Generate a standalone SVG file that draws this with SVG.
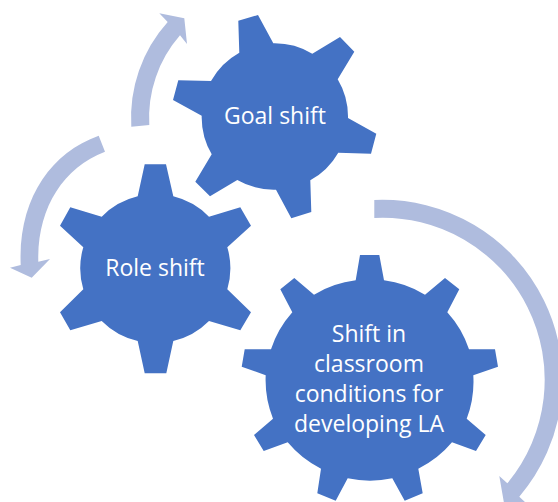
<svg xmlns="http://www.w3.org/2000/svg" width="558" height="502" viewBox="0 0 558 502">
<style>
.gear{fill:#4472c4}
.arrow{fill:#afbcde}
text{font-family:"Open Sans","Noto Sans","Liberation Sans",sans-serif;font-size:23px;fill:#fff;text-anchor:middle}
</style>
<rect width="558" height="502" fill="#fff"/>
<g id="connectors">
<path class="arrow" d="M131.3 126.7A143 143 0 0 1 167.7 22L159.3 13.3L184.3 18.3L187 44L180 35.3A125 125 0 0 0 149.3 125Z"/>
<path class="arrow" d="M98.7 135.7C50 153 18 200 20.7 265L10 267.7L31.7 277.7L50 259L38.3 261.7C37 210 62 168 105 151.7Z"/>
<path class="arrow" d="M374.3 200A180 180 0 0 1 519.3 496.7L526 503L504 503L499.3 476L507.3 483.3A162 162 0 0 0 374.3 218Z"/>
</g>
<g id="goal-shift">
<path class="gear" d="M238.3 20.7L258 15L273.3 43.3A73 73 0 0 1 312.3 53.7L340 37L354.3 51.7L337.7 79.3A73 73 0 0 1 348 118L376.3 133.7L371 153.7L338.3 152.7A73 73 0 0 1 310.3 180.3L311.3 212L291.3 218.3L276 189.7A73 73 0 0 1 237.3 180L210 196.3L195.3 181.7L211.7 154.3A73 73 0 0 1 201.7 115.7L173 100L178.3 80.3L211 81A73 73 0 0 1 239.3 52.7Z"/>
<text x="275" y="124">Goal shift</text>
</g>
<g id="role-shift">
<path class="gear" d="M144.7 164.3L166 164.3L173.3 196.3A74 74 0 0 1 209 216.7L240.3 207.3L251 225.7L227.3 247.3A74 74 0 0 1 227.3 289.3L251 312.3L240.3 330.3L209 321A74 74 0 0 1 173.3 341L166.3 373.3L144.7 373.3L137.7 341A74 74 0 0 1 101.7 321L70.3 330.3L60 312.3L83.3 289.3A74 74 0 0 1 83.3 247.3L60 225.7L70.3 207.3L101.7 216.7A74 74 0 0 1 137.7 196.3Z"/>
<text x="155" y="276">Role shift</text>
</g>
<g id="classroom-shift">
<path class="gear" d="M360 255L379.3 255L384 280.3A104 104 0 0 1 425 294.7L445 278L459.3 289.3L447.3 312.3A104 104 0 0 1 469 349.3L495 349.3L498 366.7L473.3 375.3A104 104 0 0 1 466.7 418.7L485.7 435L476 451L452 442.3A104 104 0 0 1 418.3 468.7L422.7 493.3L404.7 500.7L392.3 478.3A104 104 0 0 1 347.7 478.3L335.7 500.7L317.3 493.3L321 468.7A104 104 0 0 1 287.7 442.3L263.7 451L254 435L273 418.7A104 104 0 0 1 265.7 375.3L241.7 366.7L244.7 349.3L271 349.3A104 104 0 0 1 292.3 312.3L280.3 289.3L294.3 278L314 294.7A104 104 0 0 1 355.7 280.3Z"/>
<text x="369" y="342">Shift in</text>
<text x="369" y="372">classroom</text>
<text x="369" y="402">conditions for</text>
<text x="369" y="432">developing LA</text>
</g>
</svg>
